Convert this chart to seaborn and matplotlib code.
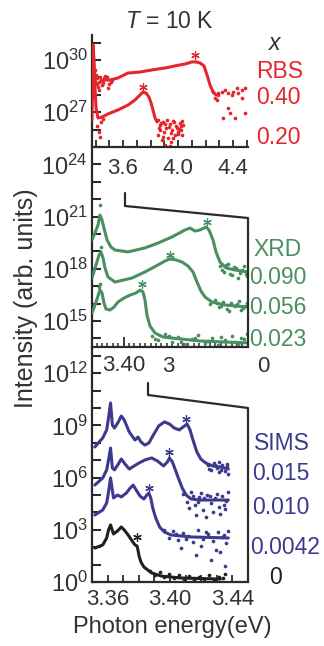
import numpy as np
import matplotlib
matplotlib.use("Agg")
import matplotlib.pyplot as plt
import seaborn as sns
from matplotlib.lines import Line2D

# ---------------- data (photon energy in eV, log10 of intensity) ----------------
# RBS panel
rbs040_E = [3.3745, 3.382, 3.389, 3.396, 3.411, 3.433, 3.469, 3.505, 3.564, 3.636, 3.724,
            3.811, 3.905, 3.978, 4.051, 4.102, 4.131, 4.160, 4.189, 4.211, 4.233, 4.255, 4.276]
rbs040_L = [27.70, 30.86, 30.00, 28.85, 28.56, 28.74, 28.85, 28.85, 28.97, 29.25, 29.31,
            29.43, 29.54, 29.66, 29.77, 29.89, 29.89, 29.83, 29.66, 29.14, 28.56, 28.16, 27.99]
rbs040_nE = [4.257, 4.293, 4.269, 4.281, 4.342, 4.366, 4.391, 4.402, 4.427, 4.439, 4.463, 4.487,
             4.366, 4.329, 4.378, 4.415, 4.487, 4.463, 4.293, 4.318,
             3.411, 3.425, 3.447, 3.469, 3.491, 3.520, 3.404, 3.440, 3.455, 3.480, 3.500, 3.432,
             3.418, 3.462, 3.510, 3.395]
rbs040_nL = [28.18, 28.09, 27.80, 27.70, 28.28, 28.09, 27.99, 28.18, 28.37, 28.09, 28.28, 28.37,
             27.22, 26.65, 26.94, 26.65, 26.94, 27.80, 27.99, 28.18,
             28.97, 28.28, 28.56, 29.08, 28.39, 28.85, 29.14, 28.85, 28.70, 29.00, 28.60, 29.05,
             28.45, 28.95, 28.75, 29.40]
rbs020_E = [3.3745, 3.382, 3.393, 3.404, 3.418, 3.447, 3.491, 3.564, 3.636, 3.687, 3.724,
            3.745, 3.767, 3.789, 3.804, 3.818, 3.833, 3.847]
rbs020_L = [26.55, 30.00, 28.85, 27.24, 26.67, 26.72, 26.90, 27.13, 27.41, 27.70, 27.99,
            28.16, 28.10, 27.87, 27.53, 27.13, 26.67, 26.44]
rbs020_nE = [3.855, 3.869, 3.891, 3.913, 3.942, 3.964, 3.985, 4.015, 4.036, 3.855, 3.884, 3.905,
             3.927, 3.949, 3.978, 4.000, 4.022, 3.869, 3.898, 3.956, 3.993, 3.920, 4.029, 3.942,
             3.862, 3.877, 3.906, 3.934, 3.971, 4.008, 4.031, 3.948, 3.889, 3.960, 3.997, 4.020,
             3.412, 3.425, 3.440, 3.430, 3.452]
rbs020_nL = [26.55, 26.26, 26.44, 26.09, 26.32, 26.49, 26.21, 26.38, 26.26, 25.69, 25.40, 25.11,
             25.52, 25.29, 25.69, 25.86, 25.98, 25.98, 25.86, 25.98, 26.09, 26.55, 25.69, 25.06,
             26.10, 26.40, 26.30, 26.15, 26.45, 26.05, 26.50, 25.80, 25.60, 25.50, 25.75, 26.20,
             26.20, 25.85, 26.45, 25.55, 26.60]
rbs_starE = [4.124, 3.745]
rbs_starL = [30.29, 28.45]

# XRD panel
xrd090_E = [3.3413, 3.3469, 3.3524, 3.3561, 3.3598, 3.3635, 3.3691, 3.3765, 3.3839, 3.4080,
            3.4394, 3.4635, 3.4894, 3.5135, 3.5228, 3.5320, 3.5413, 3.5524, 3.5580, 3.5654,
            3.5709, 3.5783, 3.5894, 3.6061, 3.6302]
xrd090_L = [19.66, 20.06, 20.52, 21.09, 20.80, 20.34, 19.66, 19.25, 19.08, 18.97,
            19.20, 19.48, 19.83, 20.23, 20.34, 20.17, 20.23, 20.40, 20.23, 19.66,
            18.97, 18.39, 18.05, 17.93, 17.82]
xrd090_nE = [3.3561, 3.5783, 3.5857, 3.5931, 3.6006, 3.6080, 3.6154, 3.6228, 3.6283, 3.5820,
             3.6117, 3.5890, 3.5970, 3.6040, 3.6190, 3.6260]
xrd090_nL = [21.67, 18.16, 17.82, 18.28, 17.64, 18.05, 17.76, 18.16, 17.59, 17.93,
             17.47, 18.20, 17.70, 18.10, 17.95, 17.70]
xrd056_E = [3.3413, 3.3487, 3.3543, 3.3580, 3.3617, 3.3654, 3.3709, 3.3839, 3.4154, 3.4394,
            3.4635, 3.4765, 3.4857, 3.4968, 3.5080, 3.5191, 3.5283, 3.5357, 3.5431, 3.5506,
            3.5635, 3.5876, 3.6302]
xrd056_L = [17.47, 18.22, 18.79, 18.97, 18.62, 18.05, 17.53, 17.24, 17.47, 17.82,
            18.22, 18.45, 18.56, 18.51, 18.39, 18.16, 17.82, 17.24, 16.72, 16.38,
            16.09, 15.92, 15.80]
xrd056_nE = [3.3580, 3.5598, 3.5691, 3.5765, 3.5839, 3.5913, 3.5987, 3.6061, 3.6135, 3.6209,
             3.6283, 3.5950, 3.6172, 3.5720, 3.5800, 3.6100, 3.6240]
xrd056_nL = [19.25, 15.98, 16.21, 15.80, 16.09, 15.69, 16.03, 15.86, 16.15, 15.75,
             16.03, 15.57, 15.63, 16.05, 15.85, 15.95, 15.88]
xrd023_E = [3.3413, 3.3469, 3.3524, 3.3561, 3.3598, 3.3635, 3.3672, 3.3746, 3.3820, 3.3894,
            3.4006, 3.4117, 3.4228, 3.4302, 3.4357, 3.4394, 3.4431, 3.4487, 3.4580, 3.4728,
            3.5043, 3.5413, 3.6302]
xrd023_L = [15.46, 15.92, 16.44, 16.78, 16.61, 16.03, 15.69, 15.63, 15.80, 16.09,
            16.32, 16.49, 16.61, 16.78, 16.67, 16.21, 15.34, 14.71, 14.31, 14.08,
            13.97, 13.85, 13.74]
xrd023_nE = [3.3543, 3.3561, 3.4524, 3.4635, 3.4765, 3.4894, 3.5006, 3.5135, 3.5265, 3.5376,
             3.5506, 3.5635, 3.5746, 3.5876, 3.6006, 3.6117, 3.6228, 3.6283, 3.4580, 3.4830,
             3.5070, 3.5320, 3.5570, 3.5800, 3.6060, 3.6180]
xrd023_nL = [16.95, 17.13, 14.14, 13.91, 14.25, 13.79, 14.08, 13.68, 13.97, 14.20,
             13.74, 14.02, 13.62, 13.91, 14.14, 13.68, 13.97, 14.25, 13.95, 14.12,
             13.80, 14.05, 13.85, 14.10, 13.78, 14.00]
xrd_starE = [3.5543, 3.4857, 3.4339]
xrd_starL = [20.69, 18.79, 17.13]

# SIMS panel
sims015_E = [3.3518, 3.3569, 3.3594, 3.3606, 3.3619, 3.3631, 3.3644, 3.3669, 3.3688, 3.3707,
             3.3739, 3.3776, 3.3795, 3.3814, 3.3839, 3.3865, 3.3890, 3.3928, 3.3965, 3.3997,
             3.4028, 3.4060, 3.4085, 3.4110, 3.4129, 3.4148, 3.4173, 3.4198, 3.4230, 3.4274,
             3.4324, 3.4375]
sims015_L = [7.76, 8.28, 8.74, 9.43, 10.29, 9.02, 8.85, 9.20, 9.54, 9.31,
             8.62, 8.16, 8.33, 8.05, 7.87, 7.99, 8.39, 8.97, 9.20, 9.08,
             8.85, 8.74, 8.91, 9.08, 8.74, 8.16, 7.47, 7.07, 6.84, 6.67,
             6.61, 6.49]
sims015_nE = [3.4243, 3.4261, 3.4280, 3.4299, 3.4318, 3.4337, 3.4356, 3.4369, 3.4375, 3.4312,
              3.4250, 3.4290, 3.4330, 3.4365]
sims015_nL = [6.72, 6.44, 6.84, 6.55, 6.32, 6.72, 6.38, 6.67, 6.21, 6.90,
              6.50, 6.75, 6.45, 6.80]
sims010_E = [3.3518, 3.3569, 3.3594, 3.3606, 3.3619, 3.3631, 3.3644, 3.3669, 3.3688, 3.3707,
             3.3739, 3.3770, 3.3802, 3.3839, 3.3883, 3.3921, 3.3959, 3.3984, 3.3997, 3.4016,
             3.4035, 3.4054, 3.4079, 3.4104, 3.4135, 3.4198, 3.4375]
sims010_L = [5.57, 5.98, 6.44, 7.01, 7.70, 6.55, 6.44, 6.78, 7.07, 6.84,
             6.49, 6.67, 6.84, 7.01, 7.13, 6.95, 6.67, 6.90, 7.13, 6.90,
             6.44, 5.98, 5.40, 5.00, 4.77, 4.71, 4.71]
sims010_nE = [3.4085, 3.4110, 3.4135, 3.4161, 3.4186, 3.4211, 3.4236, 3.4261, 3.4287, 3.4312,
              3.4337, 3.4362, 3.4375, 3.4167, 3.4230, 3.4274, 3.4324, 3.4356, 3.4123, 3.4198,
              3.4150, 3.4220, 3.4300, 3.4345, 3.4180, 3.4255]
sims010_nL = [5.06, 4.60, 5.17, 4.43, 4.89, 4.14, 5.00, 4.54, 4.83, 4.31,
              4.94, 4.66, 5.17, 3.85, 3.74, 4.02, 3.91, 4.20, 4.25, 5.11,
              4.95, 4.85, 5.05, 4.45, 4.60, 4.95]
sims0042_E = [3.3518, 3.3569, 3.3594, 3.3606, 3.3619, 3.3638, 3.3663, 3.3688, 3.3720, 3.3745,
              3.3764, 3.3783, 3.3808, 3.3833, 3.3852, 3.3865, 3.3877, 3.3890, 3.3909, 3.3934,
              3.3965, 3.4009, 3.4135, 3.4375]
sims0042_L = [3.85, 4.14, 4.54, 5.17, 5.98, 4.83, 5.00, 4.89, 5.11, 5.40,
              5.57, 5.29, 4.94, 4.77, 5.00, 5.11, 4.83, 4.25, 3.68, 3.16,
              2.87, 2.70, 2.59, 2.53]
sims0042_nE = [3.3959, 3.3991, 3.4022, 3.4054, 3.4085, 3.4117, 3.4148, 3.4180, 3.4211, 3.4243,
               3.4274, 3.4306, 3.4337, 3.4362, 3.4375, 3.4072, 3.4167, 3.4261, 3.4324, 3.4356,
               3.4198, 3.4293, 3.4040, 3.4100, 3.4230, 3.4350]
sims0042_nL = [2.99, 2.53, 2.93, 2.41, 2.82, 2.64, 2.30, 2.99, 2.47, 2.76,
               2.36, 2.87, 2.59, 2.24, 2.93, 1.95, 1.55, 1.26, 1.72, 0.92,
               2.07, 1.84, 2.75, 2.45, 2.90, 2.70]
sims0_E = [3.3518, 3.3569, 3.3594, 3.3606, 3.3619, 3.3638, 3.3663, 3.3688, 3.3707, 3.3732,
           3.3757, 3.3776, 3.3789, 3.3795, 3.3802, 3.3814, 3.3833, 3.3858, 3.3883, 3.3946,
           3.4072, 3.4324]
sims0_L = [1.95, 2.13, 2.53, 2.99, 3.28, 2.76, 2.93, 3.16, 2.99, 2.70,
           2.36, 2.13, 2.07, 1.84, 1.49, 1.15, 0.86, 0.69, 0.52, 0.34,
           0.23, 0.17]
sims0_nE = [3.3871, 3.3902, 3.3934, 3.3965, 3.3997, 3.4028, 3.4060, 3.4091, 3.4123, 3.4154,
            3.4186, 3.4217, 3.4249, 3.4280, 3.4312, 3.4343, 3.4356]
sims0_nL = [0.63, 0.40, 0.57, 0.29, 0.46, 0.23, 0.40, 0.17, 0.34, 0.11,
            0.29, 0.17, 0.40, 0.11, 0.29, 0.23, 0.46]
sims_starE = [3.4104, 3.3997, 3.3865, 3.3789]
sims_starL = [9.37, 7.47, 5.40, 2.59]

ytick_exps = [0, 3, 6, 9, 12, 15, 18, 21, 24, 27, 30]
rbs_ticks = [3.6, 4.0, 4.4]
sims_ticks = [3.36, 3.40, 3.44]

# ---------------- style ----------------
RED, GREEN, BLUE, BLACK = "#e5262d", "#4a8f60", "#3d3a8e", "#231f20"
AX = "#2b2b2b"
TXT = "#333333"

sns.set_style("ticks")
plt.rcParams["font.family"] = ["Liberation Sans", "DejaVu Sans"]
plt.rcParams["mathtext.fontset"] = "custom"
plt.rcParams["mathtext.rm"] = "Liberation Sans"
plt.rcParams["mathtext.it"] = "Liberation Sans:italic"
plt.rcParams["mathtext.default"] = "regular"

W, H = 324, 646
fig = plt.figure(figsize=(W / 100, H / 100), dpi=100)
DEC = 17.4   # pixels per decade
Y0 = 582     # pixel row of 10^0


def box(x0, x1, ytop, ybot):
    return [x0 / W, 1 - ybot / H, (x1 - x0) / W, (ybot - ytop) / H]


def ylim_px(ytop, ybot):
    return (10 ** ((Y0 - ybot) / DEC), 10 ** ((Y0 - ytop) / DEC))


def fxy(x, y):
    return x / W, 1 - y / H


# main axis carrying the shared log intensity scale
ax0 = fig.add_axes(box(92, 248, 35, 582))
ax0.set_yscale("log")
ax0.set_ylim(*ylim_px(35, 582))
ax0.set_xlim(0, 1)
for s in ["top", "right", "bottom"]:
    ax0.spines[s].set_visible(False)
ax0.spines["left"].set_linewidth(1.6)
ax0.spines["left"].set_color(AX)
ax0.set_xticks([])
ax0.set_yticks([10.0 ** e for e in ytick_exps])
ax0.set_yticklabels([r"$10^{%d}$" % e for e in ytick_exps])
ax0.set_yticks([10.0 ** e for e in range(0, 32)], minor=True)
ax0.yaxis.set_minor_formatter(plt.NullFormatter())
ax0.tick_params(axis="y", which="both", direction="in", length=6.5, width=1.5,
                color=AX, labelsize=17, labelcolor=TXT, pad=3)
ax0.patch.set_visible(False)


def panel(ytop, ybot, xlim):
    ax = fig.add_axes(box(92, 248, ytop, ybot))
    ax.set_yscale("log")
    ax.set_ylim(*ylim_px(ytop, ybot))
    ax.set_xlim(*xlim)
    for s in ["top", "right", "left"]:
        ax.spines[s].set_visible(False)
    ax.spines["bottom"].set_linewidth(1.6)
    ax.spines["bottom"].set_color(AX)
    ax.set_yticks([])
    ax.set_yticks([], minor=True)
    ax.patch.set_visible(False)
    return ax


ax_r = panel(35, 147, (3.3745, 4.509))
ax_x = panel(195, 347, (3.3413, 3.6302))
ax_s = panel(383, 582, (3.3518, 3.4501))


def curve(ax, E, L, nE, nL, color):
    sns.lineplot(x=E, y=[10.0 ** v for v in L], ax=ax, color=color, lw=2.2,
                 sort=False, estimator=None)
    sns.scatterplot(x=nE, y=[10.0 ** v for v in nL], ax=ax, color=color, s=7,
                    linewidth=0)


def stars(ax, E, L, colors):
    for e, l, c in zip(E, L, colors):
        sns.scatterplot(x=[e], y=[10.0 ** l], ax=ax, marker=(6, 2, 0), color=c,
                        edgecolor=c, s=30, linewidth=0.9)


curve(ax_r, rbs040_E, rbs040_L, rbs040_nE, rbs040_nL, RED)
curve(ax_r, rbs020_E, rbs020_L, rbs020_nE, rbs020_nL, RED)
stars(ax_r, rbs_starE, rbs_starL, [RED, RED])

curve(ax_x, xrd090_E, xrd090_L, xrd090_nE, xrd090_nL, GREEN)
curve(ax_x, xrd056_E, xrd056_L, xrd056_nE, xrd056_nL, GREEN)
curve(ax_x, xrd023_E, xrd023_L, xrd023_nE, xrd023_nL, GREEN)
stars(ax_x, xrd_starE, xrd_starL, [GREEN] * 3)

curve(ax_s, sims015_E, sims015_L, sims015_nE, sims015_nL, BLUE)
curve(ax_s, sims010_E, sims010_L, sims010_nE, sims010_nL, BLUE)
curve(ax_s, sims0042_E, sims0042_L, sims0042_nE, sims0042_nL, BLUE)
curve(ax_s, sims0_E, sims0_L, sims0_nE, sims0_nL, BLACK)
stars(ax_s, sims_starE, sims_starL, [BLUE, BLUE, BLUE, BLACK])

for ax in (ax_r, ax_x, ax_s):
    ax.set_xlabel("")
    ax.set_ylabel("")

# x ticks
ax_r.set_xticks(rbs_ticks)
ax_r.set_xticklabels(["3.6", "4.0", "4.4"])
ax_r.set_xticks(np.arange(3.4, 4.51, 0.1), minor=True)
ax_r.tick_params(axis="x", which="both", direction="in", length=5, width=1.3,
                 color=AX, labelsize=16, labelcolor=TXT, pad=8)

ax_x.set_xticks([3.40])
ax_x.set_xticklabels(["3.40"])
ax_x.set_xticks(np.arange(3.35, 3.625, 0.01), minor=True)
ax_x.tick_params(axis="x", which="major", direction="in", length=7, width=1.3,
                 color=AX, labelsize=16, labelcolor=TXT, pad=6)
ax_x.tick_params(axis="x", which="minor", direction="in", length=3, width=1.1, color=AX)

ax_s.set_xticks(sims_ticks)
ax_s.set_xticklabels(["3.36", "3.40", "3.44"])
ax_s.set_xticks(np.arange(3.35, 3.451, 0.01), minor=True)
ax_s.tick_params(axis="x", which="both", direction="in", length=5, width=1.3,
                 color=AX, labelsize=16, labelcolor=TXT, pad=5)

# connector frames and right spines
for pts in ([(125, 193), (125, 206), (248, 218), (248, 347)],
            [(148, 383), (148, 395), (248, 408), (248, 582)]):
    xs = [p[0] / W for p in pts]
    ys = [1 - p[1] / H for p in pts]
    fig.add_artist(Line2D(xs, ys, transform=fig.transFigure, color=AX, lw=1.6))

# texts
fig.text(*fxy(169, 21), r"$\mathit{T}$ = 10 K", ha="center", va="center", fontsize=16.5, color=TXT)
fig.text(*fxy(26, 298), "Intensity (arb. units)", rotation=90, ha="center", va="center",
         fontsize=18, color=TXT)
fig.text(*fxy(172, 627), "Photon energy(eV)", ha="center", va="center", fontsize=17, color=TXT)
fig.text(*fxy(168, 367), "3", ha="center", va="center", fontsize=16, color=TXT)
fig.text(*fxy(263, 367), "0", ha="center", va="center", fontsize=16, color=TXT)

right_labels = [
    (275, 43, "x", TXT, "italic"),
    (280, 72, "RBS", RED, "normal"),
    (278, 98, "0.40", RED, "normal"),
    (278, 138, "0.20", RED, "normal"),
    (278, 250, "XRD", GREEN, "normal"),
    (278, 278, "0.090", GREEN, "normal"),
    (278, 308, "0.056", GREEN, "normal"),
    (278, 340, "0.023", GREEN, "normal"),
    (282, 443, "SIMS", BLUE, "normal"),
    (281, 473, "0.015", BLUE, "normal"),
    (281, 508, "0.010", BLUE, "normal"),
    (285, 548, "0.0042", BLUE, "normal"),
    (275, 577, "0", BLACK, "normal"),
]
for x, y, t, c, st in right_labels:
    fig.text(*fxy(x, y), t, ha="center", va="center", fontsize=16.5, color=c, style=st)

fig.savefig("out.png", dpi=100)
